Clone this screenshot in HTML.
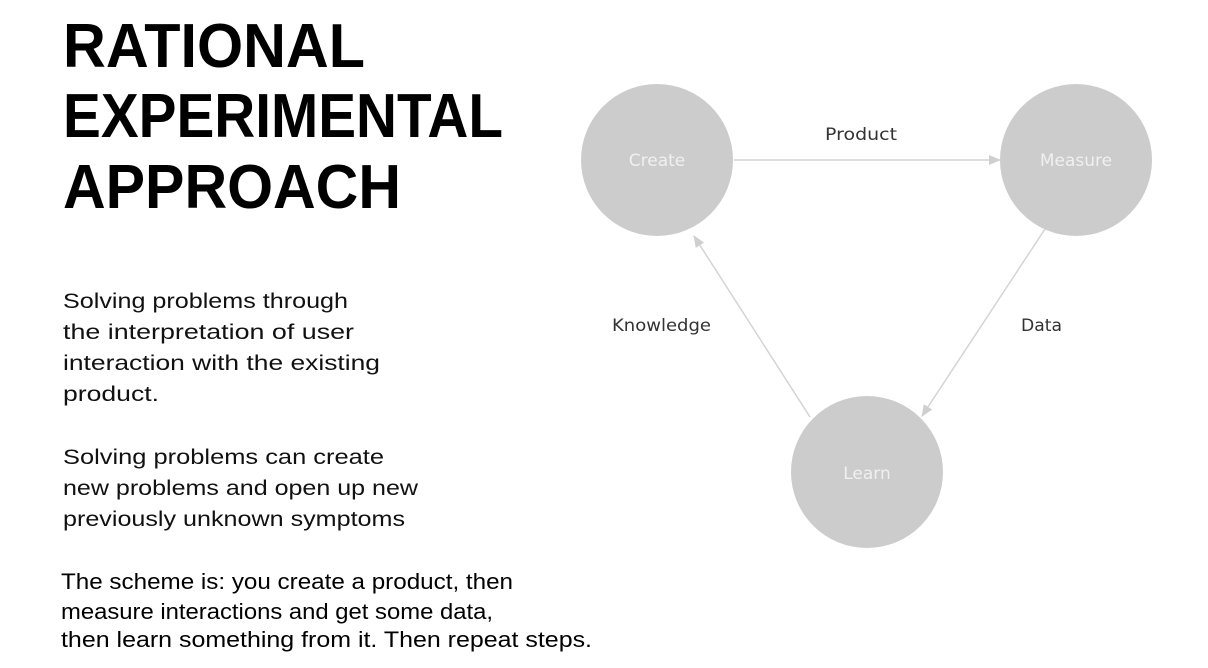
<!DOCTYPE html>
<html><head><meta charset="utf-8"><style>
html,body{margin:0;padding:0;background:#fff;}
svg{display:block;}
</style></head><body>
<svg width="1208" height="668" viewBox="0 0 1208 668" xmlns="http://www.w3.org/2000/svg">
<defs>
<marker id="ah" markerWidth="12" markerHeight="10" refX="11" refY="5" orient="auto" markerUnits="userSpaceOnUse">
<path d="M0,0 L12,5 L0,10 Z" fill="#cfcfcf"/>
</marker>
</defs>
<g font-family="Liberation Sans, sans-serif" font-weight="bold" font-size="62" fill="#000">
<text x="63" y="67" textLength="302" lengthAdjust="spacingAndGlyphs">RATIONAL</text>
<text x="63" y="137" textLength="440" lengthAdjust="spacingAndGlyphs">EXPERIMENTAL</text>
<text x="63" y="208" textLength="338" lengthAdjust="spacingAndGlyphs">APPROACH</text>
</g>
<g font-family="Liberation Sans, sans-serif" font-size="21" fill="#111">
<text x="63" y="308" textLength="285" lengthAdjust="spacingAndGlyphs">Solving problems through</text>
<text x="63" y="339" textLength="291" lengthAdjust="spacingAndGlyphs">the interpretation of user</text>
<text x="63" y="370" textLength="317" lengthAdjust="spacingAndGlyphs">interaction with the existing</text>
<text x="63" y="401" textLength="96" lengthAdjust="spacingAndGlyphs">product.</text>
<text x="63" y="464" textLength="321" lengthAdjust="spacingAndGlyphs">Solving problems can create</text>
<text x="63" y="495" textLength="355" lengthAdjust="spacingAndGlyphs">new problems and open up new</text>
<text x="63" y="526" textLength="342" lengthAdjust="spacingAndGlyphs">previously unknown symptoms</text>
</g>
<g font-family="Liberation Sans, sans-serif" font-size="22" fill="#000">
<text x="61" y="589" textLength="452" lengthAdjust="spacingAndGlyphs">The scheme is: you create a product, then</text>
<text x="61" y="619" textLength="432" lengthAdjust="spacingAndGlyphs">measure interactions and get some data,</text>
<text x="61" y="647" textLength="531" lengthAdjust="spacingAndGlyphs">then learn something from it. Then repeat steps.</text>
</g>
<g fill="#cccccc">
<ellipse cx="657" cy="160" rx="76" ry="76"/>
<ellipse cx="1076" cy="160" rx="76" ry="76"/>
<ellipse cx="867" cy="472" rx="76" ry="76"/>
</g>
<g stroke="#d4d4d4" stroke-width="1.5" fill="none" marker-end="url(#ah)">
<line x1="734" y1="160" x2="1000" y2="160"/>
<line x1="1045" y1="229" x2="922" y2="416"/>
<line x1="810" y1="417" x2="694" y2="236"/>
</g>
<g font-family="DejaVu Sans, sans-serif" font-size="17" fill="#f0f0f0" text-anchor="middle">
<text x="657" y="166">Create</text>
<text x="1076" y="166">Measure</text>
<text x="867" y="479">Learn</text>
</g>
<g font-family="DejaVu Sans, sans-serif" font-size="17" fill="#333">
<text x="861" y="140" text-anchor="middle" textLength="72" lengthAdjust="spacingAndGlyphs">Product</text>
<text x="612" y="331" textLength="99" lengthAdjust="spacingAndGlyphs">Knowledge</text>
<text x="1021" y="331" textLength="41" lengthAdjust="spacingAndGlyphs">Data</text>
</g>
</svg>
</body></html>
